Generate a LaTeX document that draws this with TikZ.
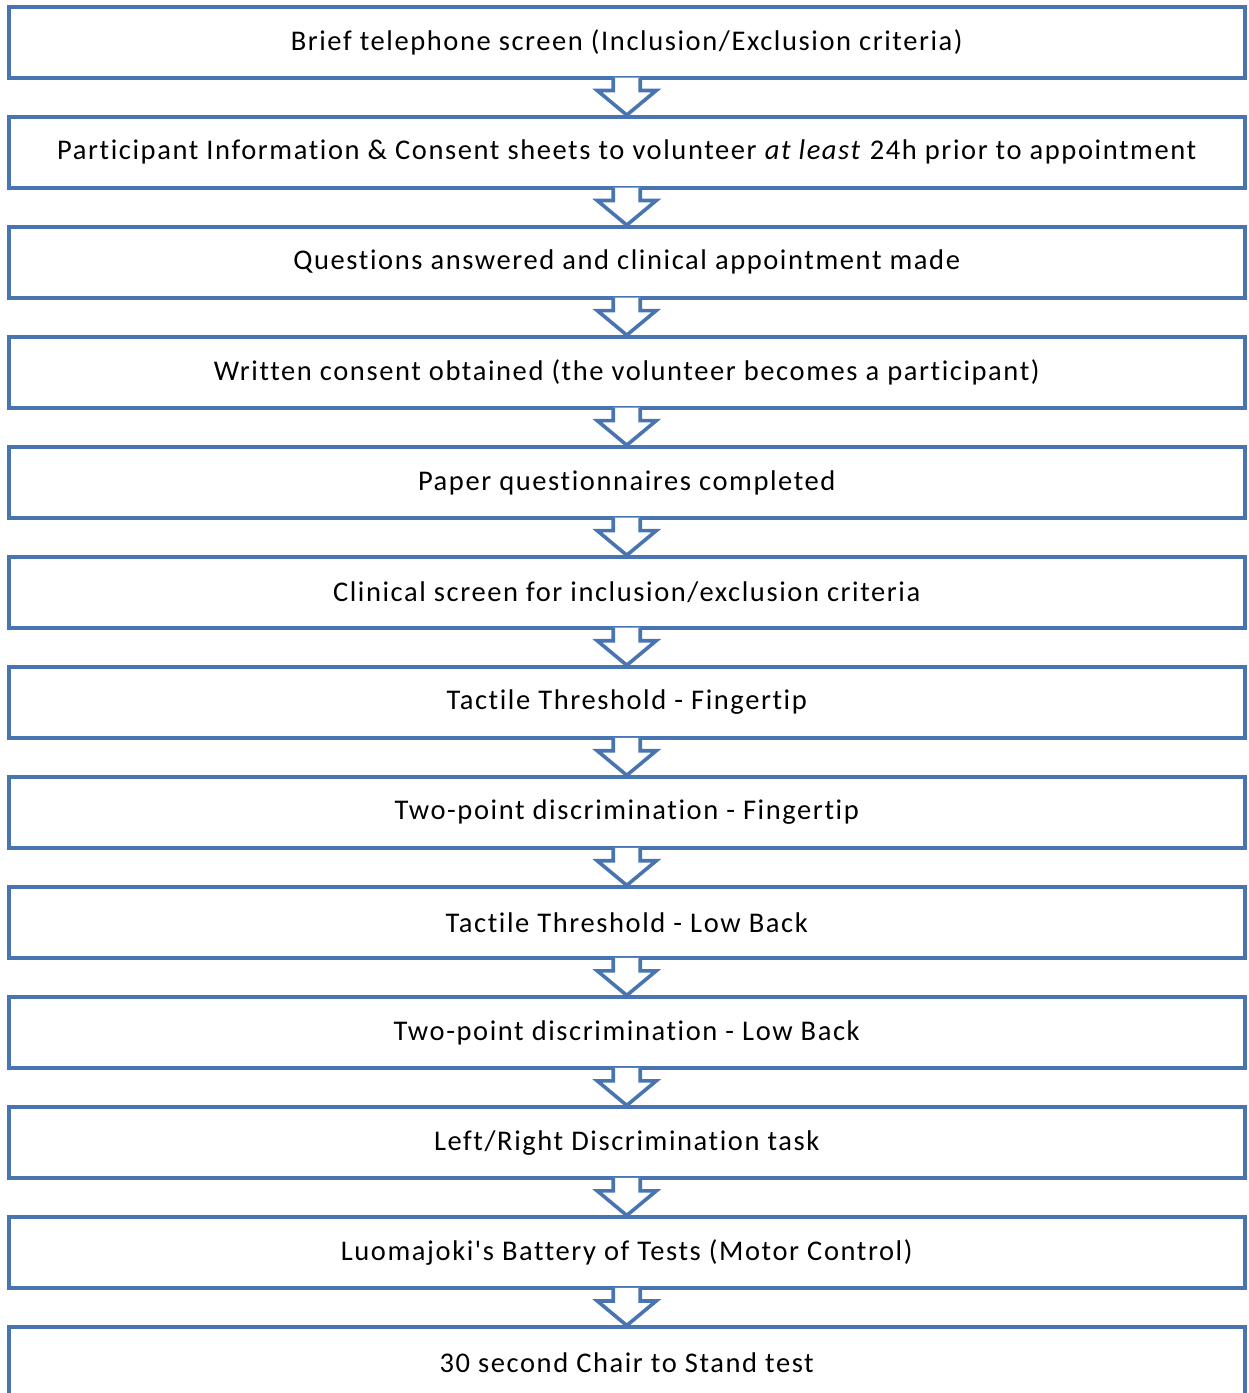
\documentclass[tikz,border=0pt]{standalone}
\usepackage{fontspec}
\setmainfont{Carlito}[Ligatures={TeXOff,NoCommon}, LetterSpace=5.6]
\definecolor{boxblue}{RGB}{72,117,178}
\begin{document}
\begin{tikzpicture}[x=1pt,y=-1pt,
  stepbox/.style={draw=boxblue, line width=4pt, fill=white, minimum width=1236.5pt, minimum height=70.5pt, inner sep=0pt, font=\fontsize{28.5}{34}\selectfont},
  blockarrow/.style={draw=boxblue, line width=3.6pt, fill=white, line join=miter}]
\clip (0,0) rectangle (1249,1393);
\useasboundingbox (0,0) rectangle (1249,1393);
\foreach \t [count=\i] in {
  {Brief telephone screen (Inclusion/Exclusion criteria)},
  {Participant Information \& Consent sheets to volunteer \textit{at least} 24h prior to appointment},
  {Questions answered and clinical appointment made},
  {Written consent obtained (the volunteer becomes a participant)},
  {Paper questionnaires completed},
  {Clinical screen for inclusion/exclusion criteria},
  {Tactile Threshold - Fingertip},
  {Two-point discrimination - Fingertip},
  {Tactile Threshold - Low Back},
  {Two-point discrimination - Low Back},
  {Left/Right Discrimination task},
  {Luomajoki's Battery of Tests (Motor Control)},
  {30 second Chair to Stand test}}
{
  \node[stepbox] (b\i) at (626.75, {7+35.25+110.04*(\i-1)}) {\t};
}
\foreach \i [evaluate=\i as \j using int(\i+1)] in {1,...,12}
{
  \filldraw[blockarrow]
    ([xshift=-13.5pt,yshift=2pt]b\i.south) --
    ([xshift=-13.5pt,yshift=-11pt]b\i.south) --
    ([xshift=-29.5pt,yshift=-11pt]b\i.south) --
    (b\j.north) --
    ([xshift=29.5pt,yshift=-11pt]b\i.south) --
    ([xshift=13.5pt,yshift=-11pt]b\i.south) --
    ([xshift=13.5pt,yshift=2pt]b\i.south);
}
\end{tikzpicture}
\end{document}
